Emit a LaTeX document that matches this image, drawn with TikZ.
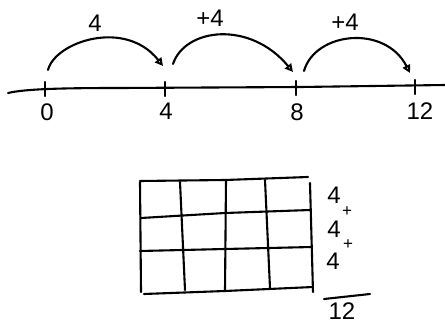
\documentclass[tikz,border=0pt]{standalone}
\usepackage{fontspec}
\setmainfont{Liberation Sans}
\usetikzlibrary{arrows.meta}
\begin{document}
\begin{tikzpicture}[x=1pt,y=-1pt,
  ink/.style={line width=2.1pt,line cap=round,line join=round},
  hop/.style={ink,-{Triangle[open,length=8pt,width=8pt]}},
  lbl/.style={font=\fontsize{24}{26}\selectfont,inner sep=0pt},
  plus/.style={font=\fontsize{17}{17}\selectfont,inner sep=0pt}]
\useasboundingbox (0,0) rectangle (445,324);
% number line
\coordinate (L) at (8,93);
\coordinate (R) at (445,85);
\draw[ink] (L) .. controls (25,89) and (60,88) .. (120,88) -- (300,87) -- (R);
\foreach \x/\y/\n in {45/88/t0,165/88/t4,296/87/t8,415/86/t12}{
  \coordinate (\n a) at (\x,\y-6);
  \coordinate (\n b) at (\x,\y+8);
  \draw[ink] (\n a) -- (\n b);
}
\node[lbl] (n0) at (47,112) {0};
\node[lbl] (n4) at (166,111) {4};
\node[lbl] (n8) at (297,112) {8};
\node[lbl] (n12) at (420,111) {12};
% hops
\coordinate (s1) at (48,70);  \coordinate (e1) at (163,66);
\coordinate (s2) at (173,64); \coordinate (e2) at (293,72);
\coordinate (s3) at (304,71); \coordinate (e3) at (410,73);
\draw[hop] (s1) .. controls (55,42) and (125,18) .. (e1);
\draw[hop] (s2) .. controls (185,28) and (250,20) .. (e2);
\draw[hop] (s3) .. controls (315,32) and (385,24) .. (e3);
\node[lbl] (h1) at (95,23) {4};
\node[lbl] (h2) at (210,18) {+4};
\node[lbl] (h3) at (345,22) {+4};
% grid
\draw[ink] (140,181) -- (225,180) -- (308,177);
\draw[ink] (141,218) -- (225,213) -- (310,210);
\draw[ink] (140,251) -- (225,249) -- (312,247);
\draw[ink] (144,294) -- (225,291) -- (313,287);
\draw[ink] (140,182) -- (141,292);
\draw[ink] (180,182) -- (185,290);
\draw[ink] (226,180) -- (225,291);
\draw[ink] (265,180) -- (270,288);
\draw[ink] (310,183) -- (313,292);
% sum
\node[lbl] (s4a) at (334,195) {4};
\node[lbl] (s4b) at (334,229) {4};
\node[lbl] (s4c) at (333,261) {4};
\node[plus] (p1) at (347,212) {+};
\node[plus] (p2) at (348,245) {+};
\coordinate (u1) at (324,299);
\coordinate (u2) at (370,294);
\draw[ink] (u1) -- (u2);
\node[lbl] (tot) at (342,311) {12};
\end{tikzpicture}
\end{document}
